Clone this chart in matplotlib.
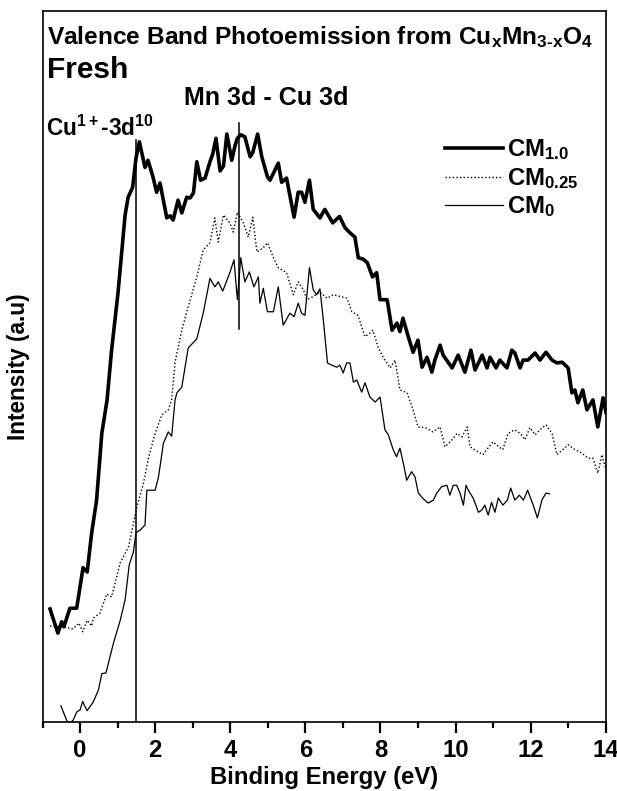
import matplotlib
matplotlib.use("Agg")
import matplotlib.pyplot as plt
from matplotlib import font_manager

# condensed sans if available, plain Liberation Sans otherwise
names = {f.name for f in font_manager.fontManager.ttflist}
face = 'Liberation Sans Narrow' if 'Liberation Sans Narrow' in names else 'Liberation Sans'
narrow = face != 'Liberation Sans'

plt.rcParams['font.family'] = [face, 'DejaVu Sans']
plt.rcParams['font.weight'] = 'bold'
plt.rcParams['mathtext.fontset'] = 'custom'
plt.rcParams['mathtext.rm'] = face + ':bold'
plt.rcParams['mathtext.it'] = face + ':bold'
plt.rcParams['mathtext.bf'] = face + ':bold'

# CM1.0
e_10 = [-0.80, -0.59, -0.49, -0.43, -0.27, -0.09, 0.08, 0.19, 0.31, 0.44, 0.58, 0.72, 0.84, 1.01,
        1.20, 1.28, 1.40, 1.49, 1.58, 1.73, 1.81, 1.94, 2.04, 2.13, 2.31, 2.40, 2.48, 2.61, 2.71,
        2.84, 2.93, 3.02, 3.11, 3.21, 3.33, 3.46, 3.53, 3.62, 3.73, 3.82, 3.91, 4.04, 4.13, 4.19,
        4.28, 4.39, 4.53, 4.60, 4.73, 4.84, 4.99, 5.06, 5.28, 5.37, 5.50, 5.70, 5.81, 5.90, 5.99,
        6.11, 6.21, 6.39, 6.52, 6.73, 6.91, 7.06, 7.19, 7.32, 7.41, 7.54, 7.65, 7.79, 7.90, 7.99,
        8.18, 8.31, 8.44, 8.52, 8.60, 8.73, 8.87, 9.00, 9.11, 9.24, 9.37, 9.45, 9.59, 9.67, 9.91,
        10.07, 10.25, 10.41, 10.52, 10.71, 10.84, 10.92, 11.08, 11.18, 11.37, 11.50, 11.58, 11.72,
        11.80, 11.93, 12.12, 12.25, 12.41, 12.57, 12.70, 12.84, 13.00, 13.10, 13.18, 13.26, 13.39,
        13.50, 13.66, 13.79, 13.93, 14.01]
i_10 = [15.9, 12.5, 14.1, 13.4, 16.0, 16.0, 21.7, 21.1, 26.6, 31.2, 40.6, 45.3, 52.3, 60.3,
        71.3, 73.8, 75.2, 79.3, 81.6, 78.0, 79.0, 76.7, 74.5, 75.8, 70.9, 71.2, 70.6, 73.4, 71.6,
        73.8, 73.7, 74.4, 78.8, 76.2, 76.5, 78.8, 79.8, 82.1, 77.5, 78.2, 82.7, 79.0, 81.1, 82.1,
        82.6, 82.3, 79.5, 80.1, 82.7, 79.5, 76.7, 76.2, 78.6, 75.9, 76.5, 71.0, 74.5, 74.5, 73.1,
        76.2, 72.1, 70.9, 72.1, 70.2, 71.1, 69.5, 68.8, 68.2, 65.3, 65.1, 64.6, 62.6, 63.2, 59.4,
        59.4, 55.1, 56.1, 54.9, 56.8, 54.4, 52.0, 53.7, 49.9, 51.3, 49.2, 50.9, 53.0, 51.6, 49.8,
        51.6, 49.2, 52.3, 49.5, 51.6, 49.8, 51.3, 49.8, 50.9, 49.8, 52.3, 51.9, 49.8,
        50.9, 50.9, 51.9, 50.9, 52.0, 50.9, 50.5, 50.6, 49.8, 46.3, 46.7, 44.9, 46.7,
        43.9, 45.3, 41.5, 45.6, 43.5]

# CM0.25
e_025 = [-0.80, -0.49, -0.19, -0.03, 0.07, 0.19, 0.31, 0.35, 0.53, 0.71, 0.84, 1.07, 1.29, 1.51,
         1.69, 1.82, 2.00, 2.18, 2.35, 2.44, 2.53, 2.71, 2.88, 3.11, 3.28, 3.46, 3.59, 3.68, 3.82,
         3.99, 4.08, 4.19, 4.35, 4.48, 4.60, 4.71, 4.88, 4.99, 5.15, 5.28, 5.50, 5.68, 5.81, 5.95,
         6.04, 6.20, 6.39, 6.58, 6.74, 7.11, 7.24, 7.40, 7.59, 7.72, 7.80, 7.94, 8.07, 8.26, 8.39,
         8.52, 8.71, 8.87, 9.00, 9.19, 9.40, 9.59, 9.72, 9.91, 10.04, 10.17, 10.31, 10.39, 10.57,
         10.73, 10.86, 11.00, 11.13, 11.26, 11.40, 11.58, 11.72, 11.85, 11.98, 12.12, 12.25, 12.41,
         12.57, 12.70, 12.86, 13.00, 13.18, 13.37, 13.53, 13.66, 13.79, 13.90, 13.98]
i_025 = [13.5, 13.4, 13.1, 13.9, 12.7, 14.3, 13.5, 14.6, 15.3, 18.0, 17.6, 22.4, 24.6, 30.2,
         33.6, 37.1, 40.6, 43.2, 43.9, 45.3, 50.6, 55.1, 58.4, 62.6, 66.4, 67.4, 70.9, 67.5, 71.3,
         70.2, 68.9, 71.7, 70.2, 68.2, 71.0, 66.1, 66.7, 67.4, 65.3, 63.9, 63.2, 60.1, 61.9, 60.8,
         59.4, 59.8, 60.5, 59.6, 60.1, 59.6, 57.7, 57.2, 54.2, 54.7, 55.1, 52.7, 51.3, 49.8, 50.9,
         46.7, 46.3, 43.9, 41.5, 41.4, 40.8, 41.5, 38.7, 39.7, 40.6, 40.1, 41.5, 38.7, 38.1,
         37.6, 38.5, 39.4, 38.8, 38.3, 40.6, 41.1, 40.6, 39.7, 41.4, 40.4, 41.1, 41.8,
         40.6, 37.6, 38.3, 39.0, 38.3, 37.8, 37.1, 37.1, 35.0, 37.6, 35.9]

# CM0
e_0 = [-0.51, -0.37, -0.29, -0.18, -0.09, 0.00, 0.07, 0.11, 0.19, 0.35, 0.49, 0.58, 0.69, 0.89,
       1.07, 1.20, 1.31, 1.42, 1.49, 1.60, 1.73, 1.78, 2.00, 2.09, 2.22, 2.35, 2.44, 2.53, 2.58,
       2.71, 2.88, 3.11, 3.28, 3.46, 3.59, 3.68, 3.80, 3.99, 4.10, 4.19, 4.28, 4.39, 4.51, 4.63,
       4.75, 4.79, 4.88, 4.99, 5.15, 5.28, 5.41, 5.59, 5.70, 5.81, 5.90, 5.99, 6.11, 6.21, 6.30,
       6.39, 6.48, 6.59, 6.70, 6.84, 6.92, 7.01, 7.10, 7.19, 7.28, 7.37, 7.50, 7.59, 7.72, 7.86,
       7.99, 8.12, 8.21, 8.34, 8.43, 8.52, 8.61, 8.70, 8.83, 8.92, 9.01, 9.14, 9.27, 9.41, 9.50,
       9.63, 9.77, 9.85, 9.94, 10.03, 10.12, 10.21, 10.28, 10.34, 10.47, 10.61, 10.70, 10.78,
       10.87, 10.96, 11.05, 11.14, 11.26, 11.38, 11.47, 11.58, 11.70, 11.81, 11.92, 12.07, 12.18,
       12.30, 12.41, 12.50]
i_0 = [2.3, 0.4, -0.3, 0.3, 1.4, 1.7, 2.9, 2.4, 1.6, 2.8, 4.5, 6.8, 6.9, 11.1,
       14.3, 17.2, 22.1, 23.9, 26.6, 27.0, 27.7, 32.6, 32.6, 34.5, 39.2, 40.8, 40.2, 45.3, 46.3,
       47.1, 52.6, 53.9, 57.5, 62.4, 61.2, 61.9, 60.6, 63.2, 65.0, 59.4, 65.3, 61.9, 63.3, 61.2,
       62.6, 58.9, 61.0, 57.7, 57.7, 61.2, 55.8, 57.5, 57.0, 58.9, 57.5, 57.2, 63.9, 60.8, 60.1,
       60.9, 56.5, 50.5, 50.2, 49.9, 50.2, 49.1, 50.5, 50.5, 47.8, 48.1, 46.4, 47.7, 45.7, 45.0,
       45.7, 41.1, 40.4, 38.3, 37.3, 38.5, 36.4, 34.0, 35.2, 34.5, 32.2, 31.4, 30.8, 31.2, 32.2,
       33.1, 33.3, 31.9, 33.3, 33.3, 32.2, 30.5, 33.3, 32.6, 31.5, 29.5, 29.8, 30.5,
       29.1, 30.9, 29.5, 31.5, 30.5, 31.2, 32.9, 31.2, 31.9, 31.2, 32.6, 30.5, 28.7,
       31.2, 32.2, 32.1]

# peak markers: (energy, bottom, top)
markers = [(1.50, 0.0, 81.9), (4.23, 55.3, 84.2)]

# font sizes differ a little depending on which face is used
k = 1.0 if narrow else 0.86

fig = plt.figure(figsize=(6.17, 7.91), dpi=100)
ax = fig.add_axes([42.5 / 617, 1 - 722 / 791, (605.7 - 42.5) / 617, (722 - 11) / 791])

ax.plot(e_10, i_10, color='black', lw=2.6, label=r'CM$_{1.0}$')
ax.plot(e_025, i_025, color='black', lw=1.0, ls=(0, (1, 1.6)), label=r'CM$_{0.25}$')
ax.plot(e_0, i_0, color='black', lw=0.9, label=r'CM$_{0}$')
for xe, y0, y1 in markers:
    ax.plot([xe, xe], [y0, y1], color='black', lw=1.1)

ax.set_xlim(-1, 14)
ax.set_ylim(0, 100)
ax.set_xticks(range(0, 15, 2))
ax.set_xticks(range(-1, 15, 2), minor=True)
ax.set_yticks([])
ax.tick_params(axis='x', which='major', direction='out', length=8, width=1.6,
               labelsize=20 * k, pad=4)
ax.tick_params(axis='x', which='minor', direction='out', length=4, width=1.6)
for sp in ax.spines.values():
    sp.set_linewidth(1.2)
for lab in ax.get_xticklabels():
    lab.set_fontweight('bold')

ax.set_xlabel('Binding Energy (eV)', fontsize=20 * k, fontweight='bold', labelpad=3)
ax.set_ylabel('Intensity (a.u)', fontsize=19 * k, fontweight='bold', labelpad=9)

ax.text(0.008, 0.982, r'Valence Band Photoemission from Cu$_{x}$Mn$_{3\text{-}x}$O$_{4}$',
        transform=ax.transAxes, fontsize=20.5 * k, fontweight='bold', va='top', ha='left')
ax.text(0.008, 0.937, 'Fresh', transform=ax.transAxes, fontsize=25 * k, fontweight='bold',
        va='top', ha='left')
ax.text(4.95, 86.8, 'Mn 3d - Cu 3d', fontsize=21 * k, fontweight='bold', ha='center',
        va='baseline')
ax.text(-0.9, 82.5, r'Cu$^{1+}$-3d$^{10}$', fontsize=19 * k, fontweight='bold', ha='left',
        va='baseline')

leg = ax.legend(loc='upper left', bbox_to_anchor=(0.715, 0.822), frameon=False,
                fontsize=20 * k, handlelength=2.43, handletextpad=0.17,
                labelspacing=0.15, borderpad=0, borderaxespad=0)

fig.savefig('out.png', dpi=100)
